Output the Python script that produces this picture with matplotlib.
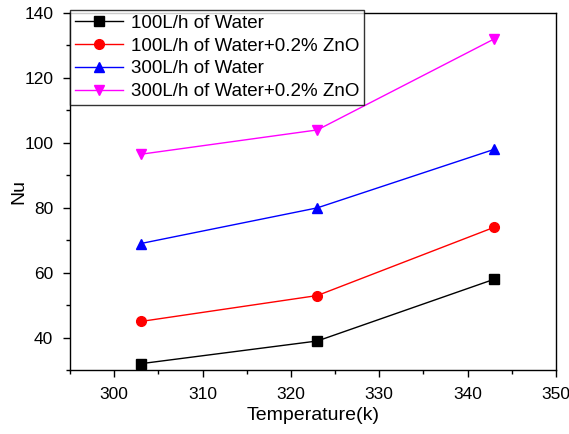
import matplotlib
matplotlib.use('Agg')
import matplotlib.pyplot as plt
from matplotlib.ticker import MultipleLocator

plt.rcParams['font.family'] = ['Liberation Sans', 'DejaVu Sans']

temps = [303, 323, 343]
water_100 = [32, 39, 58]
zno_100 = [45, 53, 74]
water_300 = [69, 80, 98]
zno_300 = [96.5, 104, 132]

labels = ['100L/h of Water', '100L/h of Water+0.2% ZnO',
          '300L/h of Water', '300L/h of Water+0.2% ZnO']

fig = plt.figure(figsize=(5.69, 4.34), dpi=100)
ax = fig.add_axes([0.123, 0.147, 0.854, 0.823])

ax.plot(temps, water_100, color='black', marker='s', markersize=6.5, lw=1, label=labels[0])
ax.plot(temps, zno_100, color='red', marker='o', markersize=7, lw=1, label=labels[1])
ax.plot(temps, water_300, color='blue', marker='^', markersize=7.5, lw=1, label=labels[2])
ax.plot(temps, zno_300, color='magenta', marker='v', markersize=7.5, lw=1, label=labels[3])

ax.set_xlim(295, 350)
ax.set_ylim(30, 140)
ax.xaxis.set_major_locator(MultipleLocator(10))
ax.xaxis.set_minor_locator(MultipleLocator(5))
ax.yaxis.set_major_locator(MultipleLocator(20))
ax.yaxis.set_minor_locator(MultipleLocator(10))
ax.tick_params(which='major', direction='out', length=5, width=1, labelsize=12.5, pad=7)
ax.tick_params(which='minor', direction='out', length=3, width=1)
for s in ax.spines.values():
    s.set_linewidth(1)

ax.set_xlabel('Temperature(k)', fontsize=14, labelpad=4)
ax.set_ylabel('Nu', fontsize=14, labelpad=-2)

leg = ax.legend(loc='upper left', fontsize=13.5, frameon=True, fancybox=False,
                edgecolor='black', borderaxespad=0, handlelength=2.6,
                borderpad=0.25, labelspacing=0.3, handletextpad=0.4,
                bbox_to_anchor=(0, 1.008))
leg.get_frame().set_linewidth(1)

fig.savefig('out.png', dpi=100)
